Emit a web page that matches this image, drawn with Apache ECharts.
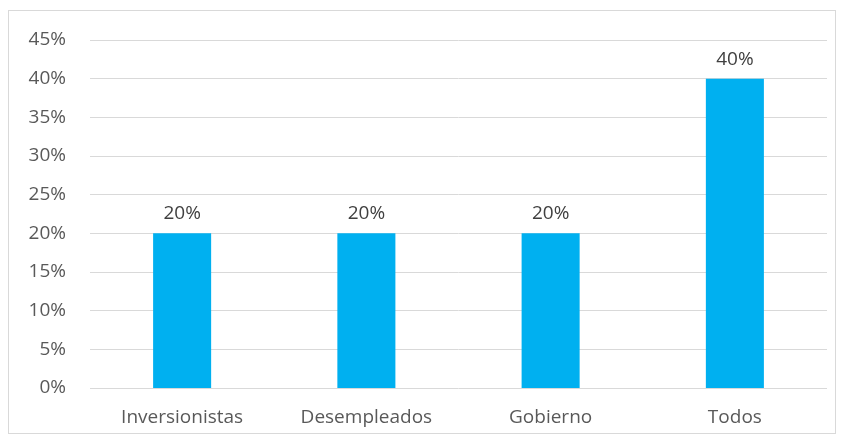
<!DOCTYPE html>
<html><head><meta charset="utf-8">
<script src="https://cdn.jsdelivr.net/npm/echarts@6/dist/echarts.min.js"></script>
<style>html,body{margin:0;padding:0;background:#fff}#c{width:845px;height:444px;}
#frame{position:absolute;left:8px;top:10px;width:828px;height:424px;border:1px solid #d9d9d9;box-sizing:border-box;pointer-events:none}</style>
</head><body><div id="c"></div><div id="frame"></div>
<script>
const categories = ['Inversionistas', 'Desempleados', 'Gobierno', 'Todos'];
const values = [20, 20, 20, 40];
const yTicks = [0, 5, 10, 15, 20, 25, 30, 35, 40, 45];
const chart = echarts.init(document.getElementById('c'));
chart.setOption({
  animation: false,
  grid: {left: 90, right: 18, top: 40, bottom: 56},
  xAxis: {
    type: 'category', data: categories,
    axisLine: {show: false}, axisTick: {show: false},
    axisLabel: {color: '#595959', fontSize: 19, fontFamily: 'Open Sans', margin: 20}
  },
  yAxis: {
    type: 'value', min: yTicks[0], max: yTicks[yTicks.length-1], interval: 5,
    axisLine: {show: false}, axisTick: {show: false},
    axisLabel: {color: '#595959', fontSize: 19, fontFamily: 'Open Sans', margin: 24, formatter: v => v + '%'},
    splitLine: {lineStyle: {color: '#d9d9d9', width: 1}}
  },
  series: [{
    type: 'bar', data: values, barWidth: '31.5%',
    itemStyle: {color: '#00b0f0'},
    label: {show: true, position: 'top', distance: 10, color: '#404040', fontSize: 19, fontFamily: 'Open Sans', formatter: p => p.value + '%'}
  }]
});
</script></body></html>
